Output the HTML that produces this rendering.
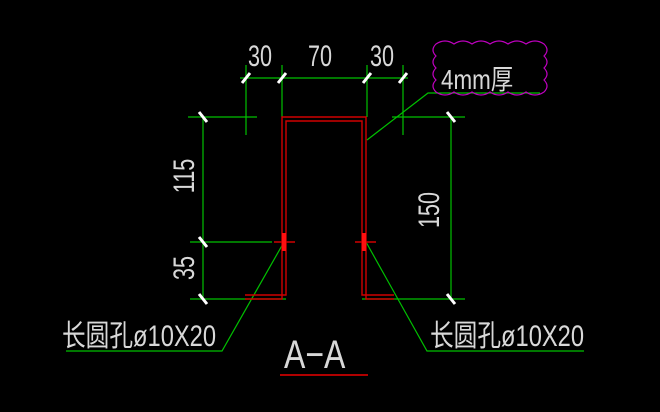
<!DOCTYPE html>
<html><head><style>
html,body{margin:0;padding:0;background:#000;width:660px;height:412px;overflow:hidden}
text{font-family:"Liberation Sans","Noto Sans CJK SC",sans-serif;fill:#d8d8d8}
</style></head><body>
<svg width="660" height="412" viewBox="0 0 660 412" xmlns="http://www.w3.org/2000/svg">
<g stroke="#00c000" stroke-width="1.2" fill="none">
<line x1="240" y1="78" x2="408" y2="78"/>
<line x1="246" y1="65" x2="246" y2="135"/>
<line x1="282" y1="65" x2="282" y2="117"/>
<line x1="367" y1="65" x2="367" y2="117"/>
<line x1="403" y1="65" x2="403" y2="135"/>
<line x1="188" y1="117" x2="257" y2="117"/>
<line x1="392" y1="117" x2="465" y2="117"/>
<line x1="203" y1="117" x2="203" y2="299"/>
<line x1="451" y1="117" x2="451" y2="299"/>
<line x1="190" y1="242" x2="272" y2="242"/>
<line x1="190" y1="299" x2="286" y2="299"/>
<line x1="362" y1="299" x2="465" y2="299"/>
<polyline points="367,140 428,93 540,93"/>
<polyline points="284,242 222,351 66,351"/>
<polyline points="366,242 427,351 584,351"/>
</g>
<g stroke="#fff" stroke-width="3">
<line x1="242" y1="83" x2="250" y2="73"/>
<line x1="278" y1="83" x2="286" y2="73"/>
<line x1="363" y1="83" x2="371" y2="73"/>
<line x1="399" y1="83" x2="407" y2="73"/>
<line x1="199" y1="112" x2="207" y2="122"/>
<line x1="199" y1="237" x2="207" y2="247"/>
<line x1="199" y1="294" x2="207" y2="304"/>
<line x1="447" y1="112" x2="455" y2="122"/>
<line x1="447" y1="294" x2="455" y2="304"/>
</g>
<g stroke="#d00000" stroke-width="1.4" fill="none">
<polyline points="245,299 282,299 282,117 366,117 366,299 394,299"/>
<polyline points="245,295 286,295 286,121 362,121 362,295 394,295"/>
<line x1="274" y1="242" x2="295" y2="242"/>
<line x1="355" y1="242" x2="376" y2="242"/>
<line x1="280" y1="375" x2="368" y2="375" stroke="#b00000" stroke-width="2"/>
</g>
<rect x="282" y="233" width="4" height="18" fill="#ff1010"/>
<rect x="362" y="233" width="4" height="18" fill="#ff1010"/>
<path d="M436,44 q9,-6 18,0 q9,-6 18,0 q9,-6 18,0 q9,-6 18,0 q9,-6 18,0 q9,-6 18,0 q6,6 0,12 q6,6 0,12 q6,6 0,12 q6,6 0,12 q-9,6 -18,0 q-9,6 -18,0 q-9,6 -18,0 q-9,6 -18,0 q-9,6 -18,0 q-9,6 -18,0 q-6,-6 0,-12 q-6,-6 0,-12 q-6,-6 0,-12 q-6,-6 0,-12z" stroke="#c000c0" stroke-width="1.2" fill="none"/>
<g font-size="30">
<text transform="translate(248,66) scale(0.72,1)">30</text>
<text transform="translate(308,66) scale(0.72,1)">70</text>
<text transform="translate(370,66) scale(0.72,1)">30</text>
<text transform="translate(441,89) scale(0.8,1)" font-size="28">4mm厚</text>
<text transform="translate(194,176) rotate(-90) scale(0.72,1)" text-anchor="middle">115</text>
<text transform="translate(194,268) rotate(-90) scale(0.72,1)" text-anchor="middle">35</text>
<text transform="translate(439,210) rotate(-90) scale(0.72,1)" text-anchor="middle">150</text>
<text transform="translate(62,346) scale(0.79,1)" font-size="30">长圆孔ø10X20</text>
<text transform="translate(430,346) scale(0.79,1)" font-size="30">长圆孔ø10X20</text>
<text transform="translate(284,368) scale(0.8,1)" font-size="40">A−A</text>
</g>
</svg>
</body></html>
